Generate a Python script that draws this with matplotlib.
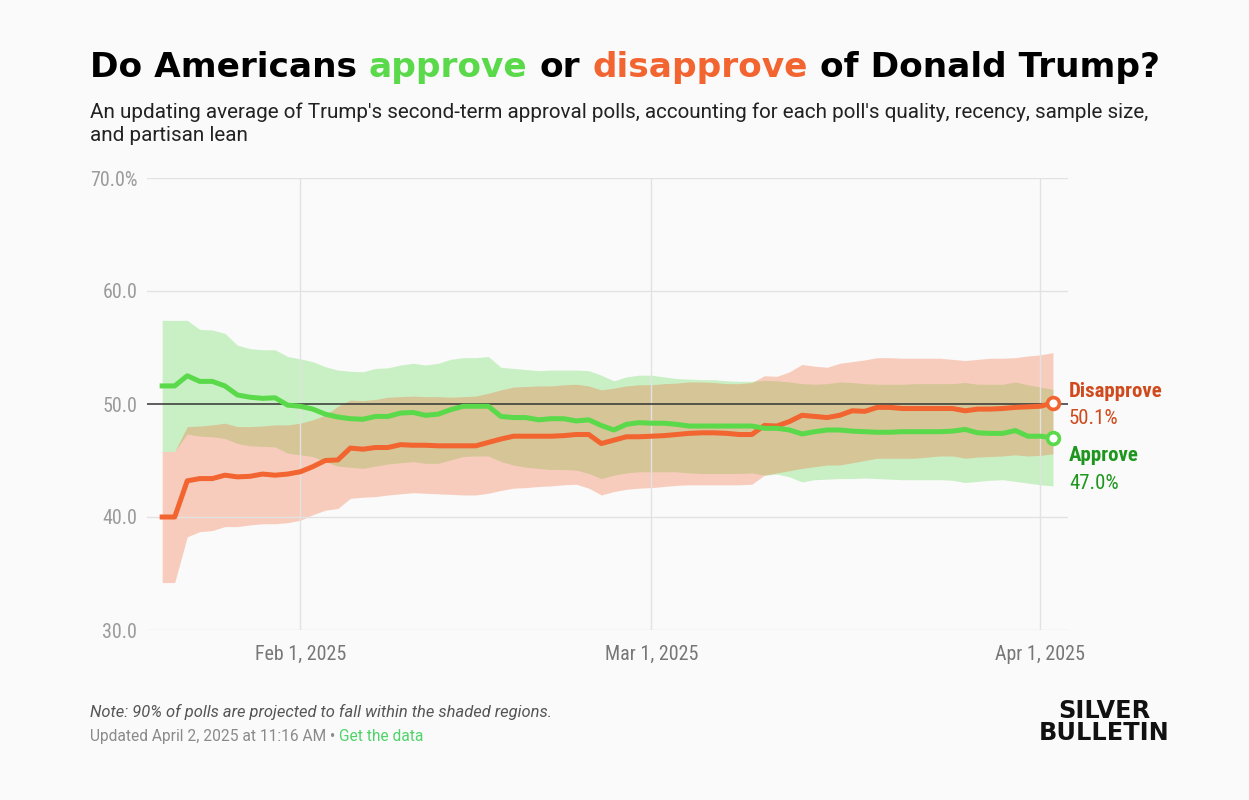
import pandas as pd
import matplotlib
matplotlib.use('Agg')
import matplotlib.pyplot as plt
from matplotlib.ticker import FixedLocator, FixedFormatter

# ---- data (one value per day) ----
days = pd.date_range('2025-01-21', '2025-04-02', freq='D')

approve = [51.6, 51.6, 52.5, 52.0, 52.0, 51.6, 50.8, 50.6, 50.5, 50.55, 49.9,
           49.8, 49.55, 49.1, 48.85, 48.7, 48.65, 48.9, 48.9, 49.2, 49.25, 49.0, 49.1, 49.5, 49.8,
           49.8, 49.8, 48.9, 48.8, 48.8, 48.6, 48.7, 48.7, 48.5, 48.6, 48.1, 47.7, 48.2, 48.35,
           48.3, 48.3, 48.2, 48.05, 48.05, 48.05, 48.05, 48.05, 48.05, 47.85, 47.85, 47.7, 47.35,
           47.55, 47.7, 47.7, 47.6, 47.55, 47.5, 47.5, 47.55, 47.55, 47.55, 47.55, 47.6, 47.75,
           47.45, 47.4, 47.4, 47.65, 47.15,
           47.15, 47.0]
approve_hi = [57.4, 57.4, 57.4, 56.6, 56.55, 56.25, 55.2, 54.9, 54.8, 54.8, 54.2,
              54.0, 53.75, 53.3, 53.0, 52.9, 52.85, 53.15, 53.2, 53.45, 53.6, 53.45, 53.6, 53.95,
              54.1, 54.1, 54.2, 53.25, 53.15, 53.05, 52.95, 53.0, 53.0, 53.0, 52.95, 52.55, 52.05,
              52.4, 52.55,
              52.55, 52.4, 52.25, 52.2, 52.15, 52.15, 52.05, 52.0, 52.0, 52.1, 52.05, 51.95, 51.8,
              51.75, 51.8, 51.95, 51.9, 51.8, 51.75, 51.75, 51.75, 51.8, 51.8, 51.8, 51.8, 51.9,
              51.75, 51.75, 51.75, 51.95, 51.7,
              51.5, 51.3]
approve_lo = [45.8, 45.8, 47.35, 47.15, 47.1, 46.95, 46.5, 46.3, 46.25, 46.2, 45.65,
              45.5, 45.35, 44.9, 44.5, 44.4, 44.3, 44.5, 44.7, 44.8, 44.9, 44.75, 44.75, 45.05,
              45.35, 45.4, 45.4, 44.9, 44.6, 44.4, 44.3, 44.2, 44.2, 44.15, 43.85, 43.4, 43.7,
              43.9, 44.0,
              44.0, 44.0, 44.0, 43.9, 43.85, 43.85, 43.85, 43.85, 43.9, 43.7, 43.8, 43.55, 43.1,
              43.3, 43.35, 43.4, 43.4, 43.45, 43.4, 43.35, 43.3, 43.3, 43.3, 43.3, 43.25, 43.05,
              43.15, 43.25, 43.3, 43.15, 43.0,
              42.85, 42.75]

disapprove = [40.0, 40.0, 43.2, 43.4, 43.4, 43.7, 43.55, 43.6, 43.8, 43.7, 43.8,
              44.0, 44.45, 45.0, 45.05, 46.1, 46.0, 46.15, 46.15, 46.4, 46.35, 46.35, 46.3, 46.3,
              46.3, 46.3, 46.6, 46.9, 47.15, 47.15, 47.15, 47.15, 47.2, 47.3, 47.3, 46.5, 46.8,
              47.1, 47.1,
              47.15, 47.2, 47.3, 47.4, 47.45, 47.45, 47.4, 47.3, 47.3, 48.1, 48.05, 48.45, 49.0,
              48.9, 48.8, 49.0, 49.4, 49.35, 49.7, 49.7, 49.6, 49.6, 49.6, 49.6, 49.6, 49.4,
              49.55, 49.55, 49.6, 49.7, 49.75,
              49.8, 50.1]
disapprove_hi = [45.8, 45.8, 48.0, 48.05, 48.15, 48.3, 48.0, 48.0, 48.05, 48.15, 48.15,
                 48.3, 48.6, 49.0, 49.8, 50.35, 50.3, 50.4, 50.6, 50.65, 50.7, 50.65, 50.65,
                 50.6, 50.65, 50.7, 50.95, 51.25, 51.5, 51.55, 51.6, 51.6, 51.7, 51.75, 51.6,
                 51.25, 51.4, 51.6, 51.7,
                 51.7, 51.8, 51.85, 51.95, 51.95, 51.9, 51.8, 51.8, 51.9, 52.5, 52.45, 52.85,
                 53.5, 53.35, 53.25, 53.6, 53.75, 53.9, 54.1, 54.1, 54.05, 54.05, 54.05, 54.05,
                 53.95, 53.85, 53.95, 54.05, 54.05, 54.1, 54.25,
                 54.35, 54.55]
disapprove_lo = [34.2, 34.2, 38.25, 38.7, 38.8, 39.15, 39.15, 39.3, 39.4, 39.4, 39.5,
                 39.7, 40.2, 40.6, 40.75, 41.65, 41.75, 41.8, 41.95, 42.05, 42.15, 42.1, 42.05,
                 42.0, 41.95, 41.95, 42.1, 42.35, 42.55, 42.6, 42.7, 42.75, 42.85, 42.9, 42.55,
                 41.95, 42.25, 42.45, 42.55,
                 42.6, 42.7, 42.8, 42.85, 42.85, 42.85, 42.85, 42.85, 42.9, 43.7, 43.9, 44.1,
                 44.3, 44.45, 44.6, 44.6, 44.8, 45.0, 45.2, 45.2, 45.2, 45.2, 45.3, 45.4,
                 45.4, 45.2, 45.3, 45.35, 45.4, 45.5, 45.4,
                 45.45, 45.6]

yticks = [30, 40, 50, 60, 70]
ytick_labels = ['30.0', '40.0', '50.0', '60.0', '70.0%']
xticks = pd.to_datetime(['2025-02-01', '2025-03-01', '2025-04-01'])
xtick_labels = ['Feb 1, 2025', 'Mar 1, 2025', 'Apr 1, 2025']

GREEN = '#5ad94a'
ORANGE = '#f26430'
BG = '#fafafa'
NARROW = dict(family=['Roboto Condensed', 'DejaVu Sans'], stretch='condensed')
SANS = ['Roboto', 'DejaVu Sans']
W, H = 1249, 800

fig = plt.figure(figsize=(W / 100, H / 100), dpi=100, facecolor=BG)
ax = fig.add_axes([147 / W, 1 - 630 / H, (1068 - 147) / W, (630 - 178) / H])
ax.set_facecolor(BG)

# bands, green first so the overlap comes out tan
ax.fill_between(days, approve_lo, approve_hi, color=GREEN, alpha=0.3, lw=0, zorder=1)
ax.fill_between(days, disapprove_lo, disapprove_hi, color=ORANGE, alpha=0.3, lw=0, zorder=1)
ax.axhline(50, color='#333333', lw=1.1, zorder=1.8)

ax.plot(days, disapprove, color=ORANGE, lw=3.6, zorder=3, solid_joinstyle='round')
ax.plot(days, approve, color=GREEN, lw=3.6, zorder=3, solid_joinstyle='round')
ax.plot(days[-1:], disapprove[-1:], 'o', ms=8.5, mfc='white', mec=ORANGE, mew=2.6, zorder=4)
ax.plot(days[-1:], approve[-1:], 'o', ms=8.5, mfc='white', mec=GREEN, mew=2.6, zorder=4)

ax.set_ylim(30, 70)
ax.set_xlim(days[0] - pd.Timedelta(hours=29), days[0] + pd.Timedelta(hours=24 * 72.2))
ax.yaxis.set_major_locator(FixedLocator(yticks))
ax.yaxis.set_major_formatter(FixedFormatter(ytick_labels))
ax.set_xticks(xticks)
ax.set_xticklabels(xtick_labels)

ax.set_axisbelow('line')
ax.grid(True, color='#e2e2e2', lw=1.0)
ax.yaxis.get_gridlines()[2].set_visible(False)
for s in ax.spines.values():
    s.set_visible(False)
ax.tick_params(length=0)
ax.tick_params(axis='y', pad=7, labelcolor='#9b9b9b')
ax.tick_params(axis='x', pad=11, labelcolor='#777777')
for lab in ax.get_xticklabels() + ax.get_yticklabels():
    lab.set_family(NARROW['family'])
    lab.set_stretch('condensed')
    lab.set_fontsize(14.4)

# end labels
lab_kw = dict(textcoords='offset points', va='baseline', ha='left', fontsize=15,
              annotation_clip=False, **NARROW)
ax.annotate('Disapprove', (days[-1], disapprove[-1]), xytext=(11.5, 4.5),
            color='#cf4a1c', fontweight='bold', **lab_kw)
ax.annotate('%.1f%%' % disapprove[-1], (days[-1], disapprove[-1]), xytext=(11.5, -15.5),
            color='#cf4a1c', **lab_kw)
ax.annotate('Approve', (days[-1], approve[-1]), xytext=(11.5, -16.5),
            color='#1e961e', fontweight='bold', **lab_kw)
ax.annotate('%.1f%%' % approve[-1], (days[-1], approve[-1]), xytext=(11.5, -36.5),
            color='#1e961e', **lab_kw)

# ---- title with coloured words ----
renderer = fig.canvas.get_renderer()


def text_width(s, **kw):
    t = fig.text(0, 0, s, **kw)
    w = t.get_window_extent(renderer=renderer).width
    t.remove()
    return w


def space_width(**kw):
    return text_width('x x', **kw) - text_width('xx', **kw)


def colored_line(x_px, y_px, parts, width_px=None, **kw):
    if width_px:
        # scale the font so the whole line spans width_px
        tot = sum(text_width(s, **kw) for s, c in parts) + space_width(**kw) * (len(parts) - 1)
        kw['fontsize'] = kw['fontsize'] * width_px / tot
    sp = space_width(**kw)
    x = x_px
    for s, c in parts:
        t = fig.text(x / W, 1 - y_px / H, s, color=c, va='baseline', ha='left', **kw)
        x += t.get_window_extent(renderer=renderer).width + sp


colored_line(90, 77, [('Do Americans', '#000000'), ('approve', GREEN), ('or', '#000000'),
                      ('disapprove', ORANGE), ('of Donald Trump?', '#000000')],
             width_px=1070, family=['DejaVu Sans'], fontweight='bold', fontsize=26)

sub_kw = dict(family=SANS, fontsize=14.85, color='#222222', va='baseline')
fig.text(90 / W, 1 - 118 / H, "An updating average of Trump's second-term approval polls, "
         "accounting for each poll's quality, recency, sample size,", **sub_kw)
fig.text(90 / W, 1 - 141 / H, 'and partisan lean', **sub_kw)

# ---- footer ----
fig.text(90 / W, 1 - 717 / H, 'Note: 90% of polls are projected to fall within the shaded regions.',
         family=SANS, style='italic', fontsize=11.9, color='#555555', va='baseline')
colored_line(90, 741, [('Updated April 2, 2025 at 11:16 AM \u2022', '#8a8a8a'),
                       ('Get the data', '#4fd36a')], family=SANS, fontsize=11.2)

fig.text(1104 / W, 1 - 740 / H, 'SILVER\nBULLETIN', family=['DejaVu Sans'], fontweight='bold',
         fontsize=17.3, color='#111111', ha='center', va='baseline', multialignment='center',
         linespacing=0.92)

fig.savefig('out.png', dpi=100, facecolor=BG)
